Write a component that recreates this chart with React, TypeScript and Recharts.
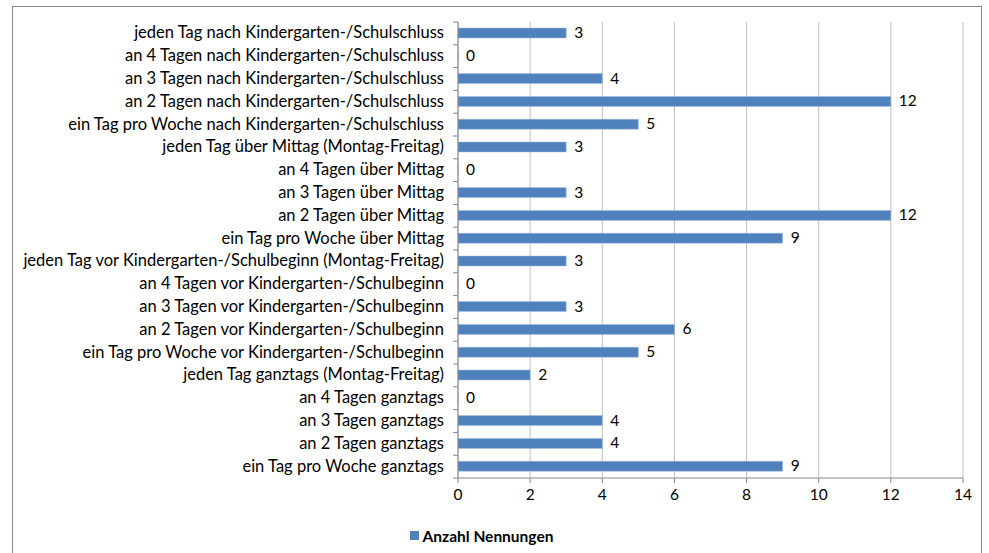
import React from "react";
import { BarChart, Bar, XAxis, YAxis, CartesianGrid, Legend, LabelList } from "recharts";

const categories = [
  "jeden Tag nach Kindergarten-/Schulschluss",
  "an 4 Tagen nach Kindergarten-/Schulschluss",
  "an 3 Tagen nach Kindergarten-/Schulschluss",
  "an 2 Tagen nach Kindergarten-/Schulschluss",
  "ein Tag pro Woche nach Kindergarten-/Schulschluss",
  "jeden Tag über Mittag (Montag-Freitag)",
  "an 4 Tagen über Mittag",
  "an 3 Tagen über Mittag",
  "an 2 Tagen über Mittag",
  "ein Tag pro Woche über Mittag",
  "jeden Tag vor Kindergarten-/Schulbeginn (Montag-Freitag)",
  "an 4 Tagen vor Kindergarten-/Schulbeginn",
  "an 3 Tagen vor Kindergarten-/Schulbeginn",
  "an 2 Tagen vor Kindergarten-/Schulbeginn",
  "ein Tag pro Woche vor Kindergarten-/Schulbeginn",
  "jeden Tag ganztags (Montag-Freitag)",
  "an 4 Tagen ganztags",
  "an 3 Tagen ganztags",
  "an 2 Tagen ganztags",
  "ein Tag pro Woche ganztags",
];

const nennungen = [3, 0, 4, 12, 5, 3, 0, 3, 12, 9, 3, 0, 3, 6, 5, 2, 0, 4, 4, 9];

const xTicks = [0, 2, 4, 6, 8, 10, 12, 14];

const seriesName = "Anzahl Nennungen";

const data = categories.map((c, i) => ({ name: c, value: nennungen[i] }));

const FONT = "Lato, sans-serif";
const TOP = 22;
const BOTTOM = 478;
const ROW = (BOTTOM - TOP) / categories.length;

const CategoryTick = (props: any) => {
  const { x, y, payload, index } = props;
  return (
    <g>
      <line x1={x + 3} x2={x + 8} y1={y - ROW / 2} y2={y - ROW / 2} stroke="#868686" />
      {index === categories.length - 1 && (
        <line x1={x + 3} x2={x + 8} y1={y + ROW / 2} y2={y + ROW / 2} stroke="#868686" />
      )}
      <text x={x - 6} y={y} dy={5} textAnchor="end" fontSize={16.5} fill="#000" fontFamily={FONT}>
        {payload.value}
      </text>
    </g>
  );
};

const ValueLabel = (props: any) => {
  const { x, y, width, height, value } = props;
  return (
    <text x={x + width + 8} y={y + height / 2} dy={5} fontSize={15.5} fill="#000" fontFamily={FONT}>
      {value}
    </text>
  );
};

const LegendBox = () => (
  <div style={{ display: "flex", justifyContent: "center", alignItems: "center", height: 35, fontFamily: FONT }}>
    <span style={{ width: 9, height: 9, background: "#4F81BD", marginRight: 4, display: "inline-block" }} />
    <span style={{ fontSize: 15.5, fontWeight: "bold", color: "#000" }}>{seriesName}</span>
  </div>
);

export default function App() {
  return (
    <div style={{ position: "fixed", left: 0, top: 0, width: 989, height: 553, background: "#fff", overflow: "hidden" }}>
      <div
        style={{
          position: "absolute",
          left: 12,
          top: 6,
          width: 970,
          height: 600,
          border: "1px solid #868686",
          boxSizing: "border-box",
        }}
      />
      <div style={{ position: "absolute", left: 0, top: 0 }}>
        <BarChart
          width={989}
          height={553}
          data={data}
          layout="vertical"
          margin={{ top: TOP, right: 26, bottom: 0, left: 0 }}
          barSize={10}
        >
          <CartesianGrid horizontal={false} stroke="#BFBFBF" />
          <XAxis
            type="number"
            domain={[0, 14]}
            ticks={xTicks}
            interval={0}
            axisLine={{ stroke: "#868686" }}
            tickLine={{ stroke: "#868686" }}
            tickSize={5}
            tickMargin={6}
            tick={{ fontSize: 15.5, fill: "#000", fontFamily: FONT }}
            height={40}
          />
          <YAxis
            type="category"
            dataKey="name"
            width={458}
            interval={0}
            axisLine={{ stroke: "#868686" }}
            tickLine={false}
            tick={<CategoryTick />}
          />
          <Legend verticalAlign="bottom" height={35} content={<LegendBox />} />
          <Bar
            dataKey="value"
            name={seriesName}
            fill="#4F81BD"
            stroke="#A7BFDE"
            strokeWidth={0.5}
            minPointSize={0.01}
            isAnimationActive={false}
          >
            <LabelList dataKey="value" content={<ValueLabel />} />
          </Bar>
        </BarChart>
      </div>
    </div>
  );
}
